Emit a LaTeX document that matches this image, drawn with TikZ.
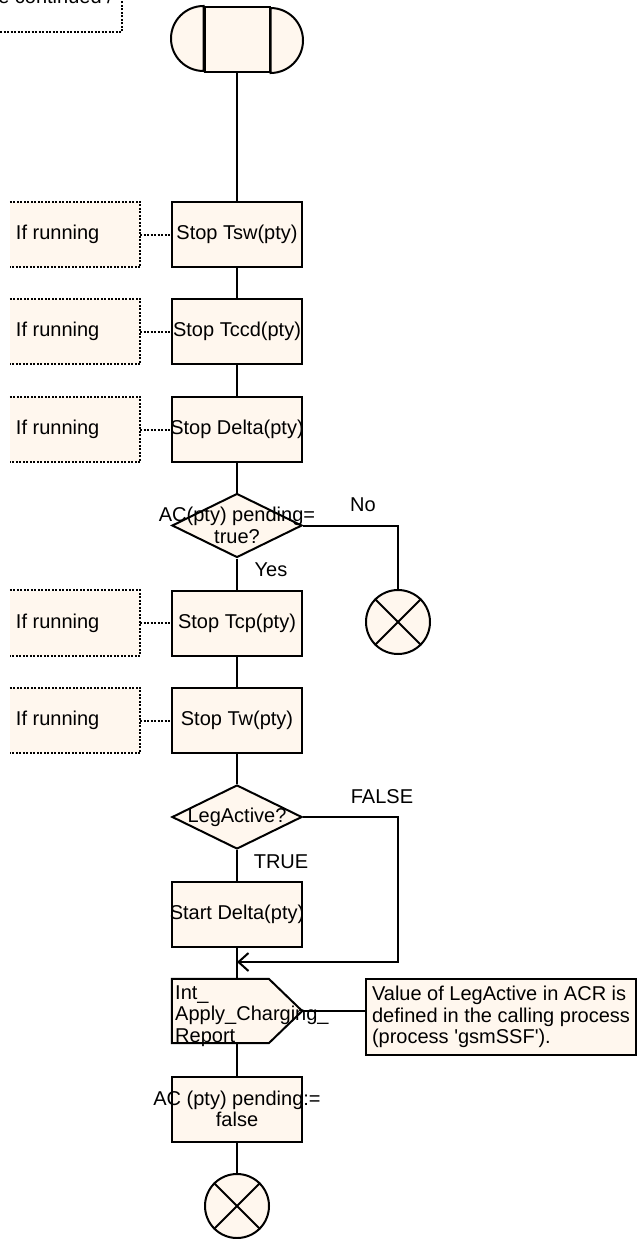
\documentclass[tikz,border=0pt]{standalone}
\usepackage{fontspec}
\setmainfont{Liberation Sans}
\usetikzlibrary{shapes.geometric,arrows.meta,calc}
\definecolor{sdlfill}{RGB}{255,247,238}
\newcommand{\ctrline}[1]{\makebox[0pt][c]{#1}}
\begin{document}
\begin{tikzpicture}[x=1pt,y=-1pt,
  every node/.style={font=\fontsize{20}{21.5}\selectfont, inner sep=0pt},
  flow/.style={line width=2pt},
  task/.style={draw, flow, fill=sdlfill, rectangle, minimum width=130pt, minimum height=65pt, align=center},
  decision/.style={draw, flow, fill=sdlfill, diamond, minimum width=130pt, minimum height=64pt, align=center},
  notebox/.style={fill=sdlfill, rectangle, minimum width=130pt, minimum height=65pt},
  dots/.style={line width=2pt, dash pattern=on 2pt off 1.5pt},
  stopsym/.style={draw, flow, fill=sdlfill, circle, minimum size=64pt},
  arrowhead/.style={-{Straight Barb[length=10pt,width=18pt]}}
]
\useasboundingbox (0,0) rectangle (637,1239);

% top-left continued comment
\node[anchor=base east] (cont) at (113,4) {e continued /};
\coordinate (tcA) at (0,32);
\coordinate (tcB) at (122,32);
\coordinate (tcC) at (122,-3);
\draw[dots] (tcA) -- (tcB) -- (tcC);

% start symbol
\node[draw, flow, fill=sdlfill, rectangle, minimum width=65pt, minimum height=65pt] (start) at (237,39.5) {};
\path[draw, flow, fill=sdlfill] (start.north west) arc[start angle=90, end angle=270, radius=32.5pt] -- cycle;
\path[draw, flow, fill=sdlfill] (start.south east) arc[start angle=-90, end angle=90, radius=32.5pt] -- cycle;

% main column
\node[task] (tsw)  at (237,234.5) {\ctrline{Stop Tsw(pty)}};
\node[task] (tccd) at (237,331.5) {\ctrline{Stop Tccd(pty)}};
\node[task] (sdel) at (237,429.5) {\ctrline{Stop Delta(pty)}};
\node[decision] (d1) at (237,525.5) {\ctrline{AC(pty) pending=}\\\ctrline{true?}};
\node[task] (tcp)  at (237,623) {\ctrline{Stop Tcp(pty)}};
\node[task] (tw)   at (237,720.5) {\ctrline{Stop Tw(pty)}};
\node[decision] (d2) at (237,817) {\ctrline{LegActive?}};
\node[task] (stdel) at (237,914.5) {\ctrline{Start Delta(pty)}};
\node[rectangle, minimum width=130pt, minimum height=64pt] (sig) at (237,1011) {};
\path[draw, flow, fill=sdlfill] (sig.north west) -- ($(sig.north west)+(97,0)$) -- (sig.east) -- ($(sig.south west)+(97,0)$) -- (sig.south west) -- cycle;
\node[anchor=west, align=left] (sigtxt) at (175,1016) {Int\_\\Apply\_Charging\_\\Report};
\node[task] (pend) at (237,1109) {\ctrline{AC (pty) pending:=}\\\ctrline{false}};
\node[stopsym] (end2) at (237,1206) {};
\node[stopsym] (end1) at (398,622) {};
\draw[flow] (end1.north west) -- (end1.south east) (end1.north east) -- (end1.south west);
\draw[flow] (end2.north west) -- (end2.south east) (end2.north east) -- (end2.south west);

% comment on signal
\node[draw, flow, fill=sdlfill, rectangle, minimum width=270pt, minimum height=76pt, align=left] (cmt) at (501,1017)
  {Value of LegActive in ACR is\\defined in the calling process\\(process \textquotesingle gsmSSF\textquotesingle).};

% "If running" comments
\foreach \nm/\tgt/\yy in {ir1/tsw/234.5, ir2/tccd/331.5, ir3/sdel/429.5, ir4/tcp/623, ir5/tw/720.5}{
  \node[notebox] (\nm) at (75,\yy) {\makebox[118pt][l]{If running}};
  \draw[dots] (\nm.north west) -- (\nm.north east) -- (\nm.south east) -- (\nm.south west);
  \draw[dots] (\nm.east) -- (\tgt.west);
}

% connectors
\coordinate (mrg) at (237,962);
\coordinate (fcorner) at (398,962);
\draw[flow] (start.south) -- (tsw.north);
\draw[flow] (tsw.south) -- (tccd.north);
\draw[flow] (tccd.south) -- (sdel.north);
\draw[flow] (sdel.south) -- (d1.north);
\draw[flow] (d1.south) -- (tcp.north);
\draw[flow] (d1.east) -| (end1.north);
\draw[flow] (tcp.south) -- (tw.north);
\draw[flow] (tw.south) -- (d2.north);
\draw[flow] (d2.south) -- (stdel.north);
\draw[flow] (stdel.south) -- (sig.north);
\draw[flow, arrowhead] (d2.east) -| (fcorner) -- (mrg);
\draw[flow] (sig.east) -- (sig.east -| cmt.west);
\draw[flow] (sig.south) -- (pend.north);
\draw[flow] (pend.south) -- (end2.north);

% labels
\node (lno) at (363,505) {No};
\node (lyes) at (271,570) {Yes};
\node (lfalse) at (382,797) {FALSE};
\node (ltrue) at (281,862) {TRUE};
\end{tikzpicture}
\end{document}
